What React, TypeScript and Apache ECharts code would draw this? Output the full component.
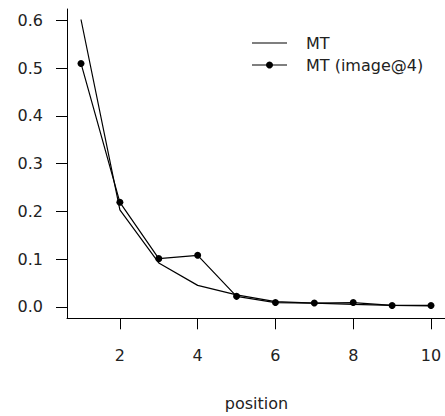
import React, { useEffect, useRef } from "react";
import * as echarts from "echarts";

const positions = [1, 2, 3, 4, 5, 6, 7, 8, 9, 10];
const mtValues = [0.602, 0.203, 0.092, 0.045, 0.025, 0.011, 0.008, 0.005, 0.003, 0.002];
const mtImageValues = [0.51, 0.219, 0.101, 0.108, 0.022, 0.009, 0.008, 0.009, 0.003, 0.003];
const xTicks = [2, 4, 6, 8, 10];
const yTicks = [0, 0.1, 0.2, 0.3, 0.4, 0.5, 0.6];
const seriesNames = ["MT", "MT (image@4)"];
const xTitle = "position";

const FONT = "DejaVu Sans";
const FS = 16;

export default function App() {
  const ref = useRef<HTMLDivElement>(null);
  useEffect(() => {
    if (!ref.current) return;
    const chart = echarts.init(ref.current, undefined, { renderer: "svg" });
    const gridLeft = 67;
    const gridTop = 9;
    const gridW = 379.3;
    const gridH = 309.3;
    chart.setOption({
      animation: false,
      backgroundColor: "#ffffff",
      grid: { left: gridLeft, top: gridTop, width: gridW, height: gridH, containLabel: false },
      xAxis: {
        type: "value",
        min: 0.64,
        max: 10.36,
        splitLine: { show: false },
        axisLine: { show: true, onZero: false, lineStyle: { color: "#000", width: 1 } },
        axisTick: { show: true, inside: false, length: 11, customValues: xTicks, lineStyle: { color: "#000", width: 1 } },
        axisLabel: {
          customValues: xTicks,
          margin: 29,
          color: "#222",
          fontFamily: FONT,
          fontSize: FS,
          formatter: (v: number) => String(v),
        },
      },
      yAxis: {
        type: "value",
        min: -0.024,
        max: 0.624,
        splitLine: { show: false },
        axisLine: { show: true, onZero: false, lineStyle: { color: "#000", width: 1 } },
        axisTick: { show: true, inside: false, length: 11, customValues: yTicks, lineStyle: { color: "#000", width: 1 } },
        axisLabel: {
          customValues: yTicks,
          margin: 24,
          color: "#222",
          fontFamily: FONT,
          fontSize: FS,
          formatter: (v: number) => v.toFixed(1),
        },
      },
      series: [
        {
          name: seriesNames[0],
          type: "line",
          data: positions.map((p, i) => [p, mtValues[i]]),
          showSymbol: false,
          symbol: "none",
          lineStyle: { color: "#000", width: 1.2 },
        },
        {
          name: seriesNames[1],
          type: "line",
          data: positions.map((p, i) => [p, mtImageValues[i]]),
          symbol: "circle",
          symbolSize: 7,
          itemStyle: { color: "#000" },
          lineStyle: { color: "#000", width: 1.2 },
        },
      ],
      graphic: [
        { type: "line", shape: { x1: 252, y1: 43, x2: 287, y2: 43 }, style: { stroke: "#000", lineWidth: 1.2 } },
        { type: "text", x: 306, y: 43, style: { text: seriesNames[0], fill: "#222", font: `${FS}px "${FONT}"`, verticalAlign: "middle" } },
        { type: "line", shape: { x1: 252, y1: 65, x2: 287, y2: 65 }, style: { stroke: "#000", lineWidth: 1.2 } },
        { type: "circle", shape: { cx: 269.5, cy: 65, r: 3.5 }, style: { fill: "#000" } },
        { type: "text", x: 306, y: 65, style: { text: seriesNames[1], fill: "#222", font: `${FS}px "${FONT}"`, verticalAlign: "middle" } },
        { type: "text", x: 256.5, y: 403, style: { text: xTitle, fill: "#222", font: `${FS}px "${FONT}"`, align: "center", verticalAlign: "middle" } },
      ],
    });
    return () => chart.dispose();
  }, []);
  return <div ref={ref} style={{ position: "fixed", left: 0, top: 0, width: 445, height: 416 }} />;
}
